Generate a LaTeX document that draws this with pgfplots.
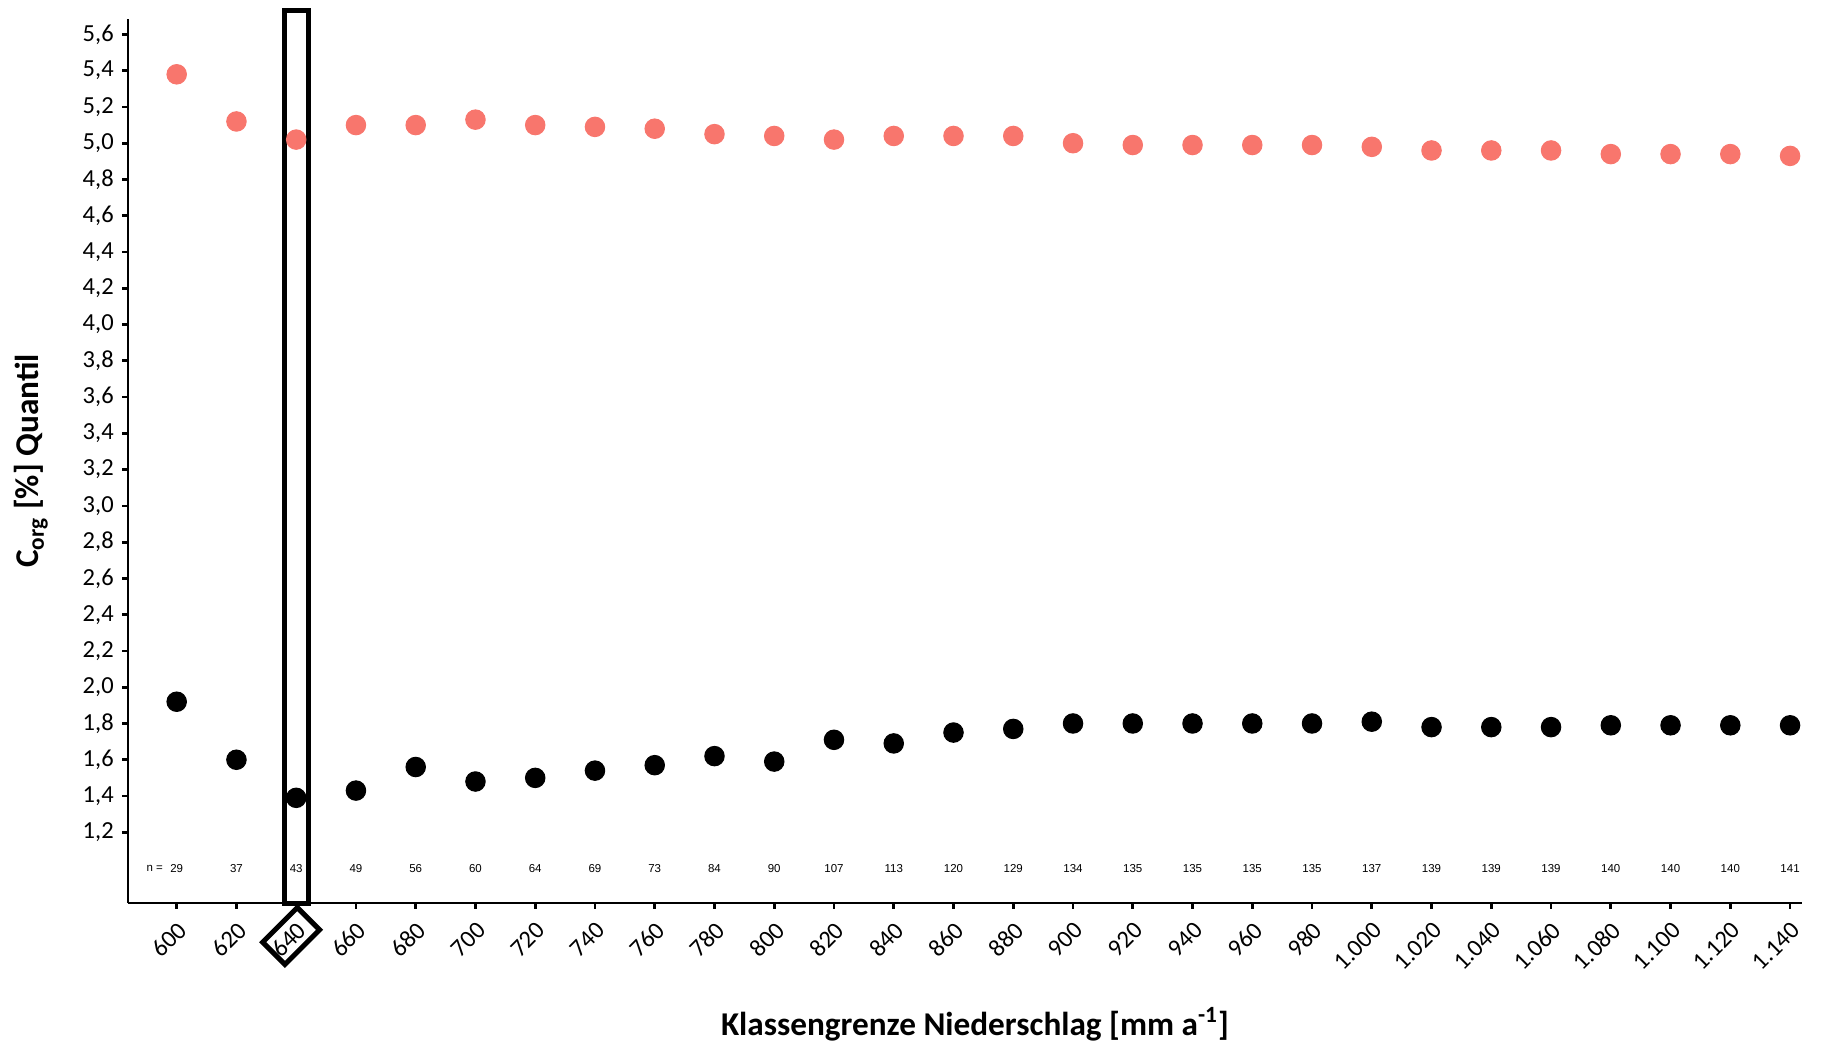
\documentclass[border=0pt]{standalone}
\usepackage{fontspec}
\setmainfont{Carlito}
\newfontfamily\arialfont{Liberation Sans}
\usepackage{pgfplots}
\pgfplotsset{compat=1.18}
\usepackage{pgfplotstable}
\definecolor{redpt}{HTML}{F8766D}

\pgfplotstableread{
x hi lo n ny
600 5.38 1.92 29 1.0
620 5.12 1.60 37 1.0
640 5.02 1.39 43 1.0
660 5.10 1.43 49 1.0
680 5.10 1.56 56 1.0
700 5.13 1.48 60 1.0
720 5.10 1.50 64 1.0
740 5.09 1.54 69 1.0
760 5.08 1.57 73 1.0
780 5.05 1.62 84 1.0
800 5.04 1.59 90 1.0
820 5.02 1.71 107 1.0
840 5.04 1.69 113 1.0
860 5.04 1.75 120 1.0
880 5.04 1.77 129 1.0
900 5.00 1.80 134 1.0
920 4.99 1.80 135 1.0
940 4.99 1.80 135 1.0
960 4.99 1.80 135 1.0
980 4.99 1.80 135 1.0
1000 4.98 1.81 137 1.0
1020 4.96 1.78 139 1.0
1040 4.96 1.78 139 1.0
1060 4.96 1.78 139 1.0
1080 4.94 1.79 140 1.0
1100 4.94 1.79 140 1.0
1120 4.94 1.79 140 1.0
1140 4.93 1.79 141 1.0
}\data

\begin{document}
\begin{tikzpicture}
\begin{axis}[
  scale only axis, width=669.6pt, height=353.6pt,
  xmin=583.7, xmax=1144, ymin=0.81, ymax=5.685,
  axis lines*=left,
  axis line style={line width=1.1pt, black},
  xtick={600,620,...,1140},
  ytick={1.2,1.4,1.6,1.8,2.0,2.2,2.4,2.6,2.8,3.0,3.2,3.4,3.6,3.8,4.0,4.2,4.4,4.6,4.8,5.0,5.2,5.4,5.6},
  tick align=outside, major tick length=2.2pt,
  tick style={line width=1.1pt, black},
  /pgf/number format/assume math mode=true,
  ticklabel style={font=\fontsize{9.8}{11}\selectfont},
  yticklabel style={/pgf/number format/.cd, use comma, fixed, fixed zerofill, precision=1},
  xticklabel style={xshift=4.8pt, yshift=-4.7pt, rotate=45, anchor=east, /pgf/number format/.cd, 1000 sep={.}},
  xlabel={Klassengrenze Niederschlag [mm a\textsuperscript{-1}]},
  ylabel={C\textsubscript{org} [\%] Quantil},
  label style={font=\fontsize{13.3}{16}\selectfont\bfseries},
  xlabel style={at={(axis description cs:0.506,-0.137)}, anchor=center},
  ylabel style={at={(axis description cs:-0.058,0.5)}, anchor=center},
  clip=false,
]
\addplot[only marks, mark=*, mark size=3.9pt, color=redpt] table[x=x, y=hi] {\data};
\addplot[only marks, mark=*, mark size=3.9pt, color=black] table[x=x, y=lo] {\data};
\addplot[draw=none, mark=none, nodes near coords, point meta=explicit symbolic,
  nodes near coords style={font=\arialfont\fontsize{4.6}{5}\selectfont, anchor=center, black}]
  table[x=x, y=ny, meta=n] {\data};
\node[anchor=east, font=\arialfont\fontsize{4.6}{5}\selectfont, xshift=-2pt] at (axis cs:600,1.0) {n =};
\draw[line width=2pt] (axis cs:636,0.81) rectangle (axis cs:644,5.73);
\node[draw, line width=2pt, rotate=45, minimum width=19.6pt, minimum height=12.6pt, inner sep=0pt] at (axis cs:638.3,0.628) {};
\coordinate (sw) at (rel axis cs:0,0);
\coordinate (ne) at (rel axis cs:1,1);
\end{axis}
\pgfresetboundingbox
\useasboundingbox ([xshift=-51.2pt,yshift=-56.4pt]sw) rectangle ([xshift=9.2pt,yshift=7.6pt]ne);
\end{tikzpicture}
\end{document}
